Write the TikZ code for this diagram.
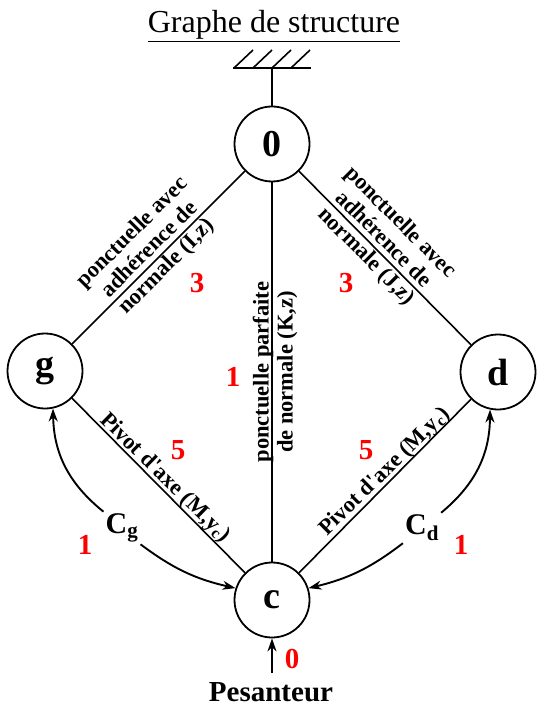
\documentclass[tikz,border=0pt]{standalone}
\usepackage{fontspec}
\setmainfont{Liberation Serif}
\usetikzlibrary{arrows.meta}
\begin{document}
\begin{tikzpicture}[x=1pt,y=-1pt,
  vertex/.style={circle,draw,line width=1.8pt,minimum size=75pt,inner sep=0pt,font=\bfseries\fontsize{38}{38}\selectfont},
  lbl/.style={font=\bfseries\fontsize{22.5}{24}\selectfont,align=center,inner sep=0pt},
  num/.style={text=red,font=\bfseries\fontsize{29}{29}\selectfont,inner sep=0pt},
  link/.style={line width=1.6pt},
  arr/.style={line width=1.9pt,-{Stealth[length=13pt,width=9pt]}},
  couple/.style={font=\bfseries\fontsize{30}{30}\selectfont,inner sep=2pt}
]
\useasboundingbox (0,0) rectangle (536,708);
% title
\node[anchor=base,font=\fontsize{32}{32}\selectfont,inner sep=0pt] (title) at (274,33) {\underline{Graphe de structure}};
% vertices
\node[vertex] (n0) at (272,144) {0};
\node[vertex] (g) at (45,371) {g};
\node[vertex] (d) at (498,372) {d};
\node[vertex] (c) at (272,600) {c};
% ground
\coordinate (gr) at (272,68);
\draw[line width=1.8pt] (n0.north) -- (gr);
\draw[line width=1.8pt] (233,68) -- (311,68);
\foreach \xx in {234,253,272,291}
  \draw[line width=1.6pt] (\xx,68) -- ++(19,-18);
% links
\draw[link] (n0) -- (g);
\draw[link] (n0) -- (d);
\draw[link] (n0) -- (c);
\draw[link] (g) -- (c);
\draw[link] (d) -- (c);
% link labels
\node[lbl,rotate=45] (l0g) at (150,250) {ponctuelle avec\\adhérence de\\normale (I,z)};
\node[lbl,rotate=-45] (l0d) at (383,240) {ponctuelle avec\\adhérence de\\normale (J,z)};
\node[lbl,rotate=90] (l0c) at (275,372) {ponctuelle parfaite\\de normale (K,z)};
\node[lbl,rotate=-44.5] (lgc) at (165,478) {Pivot d\textquotesingle axe (M,y\textsubscript{c})};
\node[lbl,rotate=44.5] (ldc) at (385,472) {Pivot d\textquotesingle axe (M,y\textsubscript{c})};
% numbers
\node[num] (r3a) at (197,283) {3};
\node[num] (r3b) at (346,283) {3};
\node[num] (r1c) at (233,377) {1};
\node[num] (r5a) at (178,450) {5};
\node[num] (r5b) at (366,450) {5};
\node[num] (r1a) at (85,545) {1};
\node[num] (r1b) at (461,545) {1};
\node[num] (r0) at (292,659) {0};
% couples
\node[couple] (Cg) at (122,528) {C\textsubscript{g}};
\node[couple] (Cd) at (422,528) {C\textsubscript{d}};
\draw[arr] (Cg.north west) to[bend left=25] (g.-78);
\draw[arr] (Cg.south east) to[bend right=12] (c.162);
\draw[arr] (Cd.north east) to[bend right=25] (d.-102);
\draw[arr] (Cd.south west) to[bend left=12] (c.18);
% gravity
\node[font=\bfseries\fontsize{29}{29}\selectfont,inner sep=0pt] (pes) at (271,692) {Pesanteur};
\draw[arr] (272,673) -- (c.south);
\end{tikzpicture}
\end{document}
